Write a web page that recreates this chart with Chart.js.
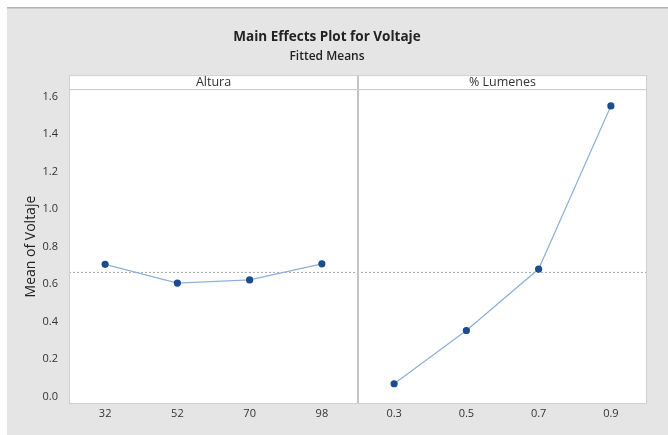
<!DOCTYPE html>
<html lang="es">
<head>
  <meta charset="UTF-8">
  <title>Main Effects Plot for Voltaje</title>
  <script src="https://cdn.jsdelivr.net/npm/chart.js"></script>
  <style>
    html, body { margin: 0; padding: 0; background: #fff; }
    #wrap { width: 668px; height: 435px; }
  </style>
</head>
<body>
  <div id="wrap"><canvas id="myChart"></canvas></div>
  <script>
    // factor levels and fitted means
    const alturaLevels = ['32', '52', '70', '98'];
    const alturaMeans = [0.705, 0.605, 0.622, 0.708];
    const lumenesLevels = ['0.3', '0.5', '0.7', '0.9'];
    const lumenesMeans = [0.068, 0.352, 0.680, 1.550];
    const panelNames = ['Altura', '% Lumenes'];
    const meanVoltaje = 0.662;
    const yTicks = [0.0, 0.2, 0.4, 0.6, 0.8, 1.0, 1.2, 1.4, 1.6];

    const labels = alturaLevels.concat(lumenesLevels);
    const blanks = alturaLevels.map(() => null);
    const fontFam = '"Open Sans", "DejaVu Sans", sans-serif';

    // background, panel strips, divider and mean line
    const minitabLook = {
      id: 'minitabLook',
      beforeDraw(chart) {
        const c = chart.ctx, a = chart.chartArea;
        c.save();
        c.fillStyle = '#ffffff';
        c.fillRect(0, 0, chart.width, chart.height);
        c.fillStyle = '#e5e5e5';
        c.fillRect(7, 7, chart.width - 7, chart.height - 7);
        c.fillStyle = '#b4b4b4';
        c.fillRect(7, 7, chart.width - 7, 1.5);
        c.fillStyle = '#ffffff';
        c.fillRect(a.left, a.top, a.right - a.left, a.bottom - a.top);
        c.restore();
      },
      beforeDatasetsDraw(chart) {
        const c = chart.ctx, a = chart.chartArea;
        const mid = (a.left + a.right) / 2;
        const y = chart.scales.y.getPixelForValue(meanVoltaje);
        c.save();
        // mean reference
        c.strokeStyle = '#a8a8a8';
        c.lineWidth = 1;
        c.setLineDash([2, 2]);
        c.beginPath();
        c.moveTo(a.left, y);
        c.lineTo(a.right, y);
        c.stroke();
        c.setLineDash([]);
        // panel divider
        c.strokeStyle = '#c4c4c4';
        c.lineWidth = 2;
        c.beginPath();
        c.moveTo(mid, a.top - 14);
        c.lineTo(mid, a.bottom);
        c.stroke();
        // plot border
        c.strokeStyle = '#cfcfcf';
        c.lineWidth = 1;
        c.strokeRect(a.left + 0.5, a.top + 0.5, a.right - a.left - 1, a.bottom - a.top - 1);
        // header strip
        c.fillStyle = '#ffffff';
        c.fillRect(a.left, a.top - 14, mid - a.left - 1, 14);
        c.fillRect(mid + 1, a.top - 14, a.right - mid - 1, 14);
        c.strokeStyle = '#cfcfcf';
        c.strokeRect(a.left + 0.5, a.top - 14 + 0.5, a.right - a.left - 1, 14);
        c.fillStyle = '#333333';
        c.font = '12.5px ' + fontFam;
        c.textAlign = 'center';
        c.textBaseline = 'middle';
        c.fillText(panelNames[0], (a.left + mid) / 2, a.top - 7);
        c.fillText(panelNames[1], (mid + a.right) / 2, a.top - 7);
        c.restore();
      }
    };

    const lineStyle = {
      borderColor: '#8fb0db',
      borderWidth: 1.2,
      pointBackgroundColor: '#1c4c8f',
      pointBorderColor: '#1c4c8f',
      pointRadius: 3,
      tension: 0,
      spanGaps: false
    };

    new Chart(document.getElementById('myChart'), {
      type: 'line',
      data: {
        labels: labels,
        datasets: [
          Object.assign({ label: panelNames[0], data: alturaMeans.concat(blanks) }, lineStyle),
          Object.assign({ label: panelNames[1], data: blanks.concat(lumenesMeans) }, lineStyle)
        ]
      },
      options: {
        responsive: true,
        maintainAspectRatio: false,
        animation: false,
        layout: { padding: { left: 7, right: 21, top: 8, bottom: 0 } },
        plugins: {
          legend: { display: false },
          tooltip: { enabled: false },
          title: {
            display: true,
            text: 'Main Effects Plot for Voltaje',
            color: '#222',
            font: { family: fontFam, size: 13.5, weight: 'bold' },
            padding: { top: 21, bottom: 4 }
          },
          subtitle: {
            display: true,
            text: 'Fitted Means',
            color: '#222',
            font: { family: fontFam, size: 12, weight: '600' },
            padding: { top: 0, bottom: 25.5 }
          }
        },
        scales: {
          x: {
            type: 'category',
            offset: true,
            grid: { display: false, drawTicks: false },
            border: { display: false },
            ticks: { color: '#333', font: { family: fontFam, size: 11 }, padding: 3, maxRotation: 0, autoSkip: false },
            afterFit(s) { s.height = 31; }
          },
          y: {
            min: -0.04,
            max: 1.64,
            afterBuildTicks(s) { s.ticks = yTicks.map(v => ({ value: v })); },
            grid: { display: false, drawTicks: false },
            border: { display: false },
            ticks: {
              color: '#333',
              font: { family: fontFam, size: 11 },
              padding: 11,
              callback: v => v.toFixed(1)
            },
            title: {
              display: true,
              text: 'Mean of Voltaje',
              color: '#222',
              font: { family: fontFam, size: 14 },
              padding: { top: 16, bottom: 0 }
            },
            afterFit(s) { s.width = 62; }
          }
        }
      },
      plugins: [minitabLook]
    });
  </script>
</body>
</html>
